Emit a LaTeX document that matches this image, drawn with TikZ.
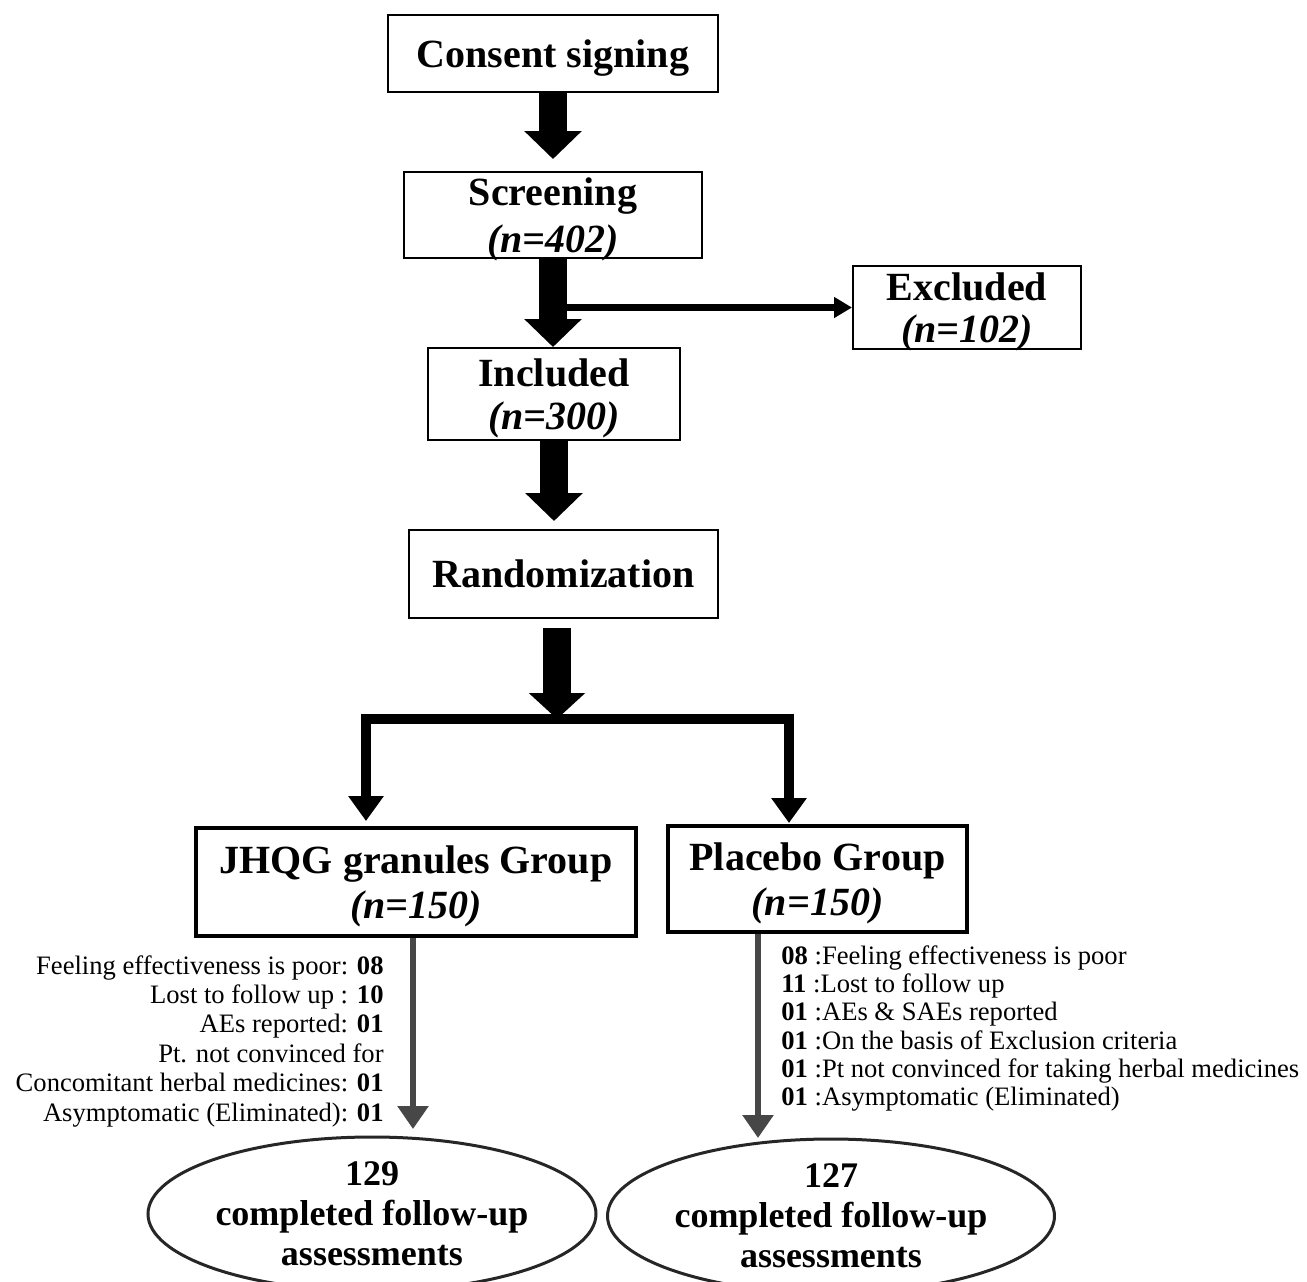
\documentclass[tikz,border=0pt]{standalone}
\usepackage{fontspec}
\setmainfont{Liberation Serif}
\usetikzlibrary{arrows.meta,shapes.geometric,calc}
\begin{document}
\begin{tikzpicture}[x=0.5pt,y=-0.5pt,
  box/.style={draw, line width=1pt, inner sep=0pt, align=center, text depth=0pt,
    font=\fontsize{20}{23}\selectfont\bfseries},
  gbox/.style={box, line width=1.8pt},
  fat/.style={line width=14pt, -{Triangle[width=28pt,length=14pt]}},
  barline/.style={line width=5pt, -{Triangle[width=17pt,length=12.5pt]}},
  thinarr/.style={line width=3.5pt, -{Triangle[width=10pt,length=9pt]}},
  grayarr/.style={draw=black!72, line width=2.8pt, -{Triangle[width=15pt,length=11.5pt]}},
  side/.style={inner sep=0pt, font=\fontsize{13.3}{14.7}\selectfont},
  ell/.style={draw=black!85, ellipse, line width=1.5pt, inner sep=0pt, align=center,
    font=\fontsize{18}{20}\selectfont\bfseries}]
\useasboundingbox (0,0) rectangle (1307,1281);
\clip (0,0) rectangle (1307,1281);

% boxes
\node[box, minimum width=165pt, minimum height=38.5pt] (consent) at (553,53.5) {Consent signing};
\node[box, minimum width=149pt, minimum height=43pt, font=\fontsize{20}{23.5}\selectfont\bfseries] (screen) at (553,215) {Screening\\\textit{(n=402)}};
\node[box, minimum width=114pt, minimum height=41.5pt, font=\fontsize{20}{21}\selectfont\bfseries] (excl) at (967,307.5) {Excluded\\\textit{(n=102)}};
\node[box, minimum width=126pt, minimum height=46pt, font=\fontsize{20}{21.5}\selectfont\bfseries] (incl) at (554,394) {Included\\\textit{(n=300)}};
\node[box, minimum width=154.5pt, minimum height=44pt] (rand) at (563.5,574) {Randomization};
\node[gbox, minimum width=220pt, minimum height=54pt, font=\fontsize{20}{22.5}\selectfont\bfseries] (jh) at (416,882) {JHQG granules Group\\\textit{(n=150)}};
\node[gbox, minimum width=149.5pt, minimum height=53pt, font=\fontsize{20}{22.5}\selectfont\bfseries] (pl) at (817.5,879) {Placebo Group\\\textit{(n=150)}};

% ellipses
\node[ell, minimum width=224pt, minimum height=77pt] (le) at (372,1214) {129\\completed follow-up\\assessments};
\node[ell, minimum width=223.5pt, minimum height=77pt] (re) at (831,1216) {127\\completed follow-up\\assessments};

% side texts
\node[side, anchor=east, align=right] (ltxt) at (384,1041) {Feeling effectiveness is poor: \textbf{08}\\
Lost to follow up : \textbf{10}\\
AEs reported: \textbf{01}\\
Pt. not convinced for\\
Concomitant herbal medicines: \textbf{01}\\
Asymptomatic (Eliminated): \textbf{01}};
\node[side, anchor=west, align=left, font=\fontsize{13.3}{14.1}\selectfont] (rtxt) at (781,1028.5) {\textbf{08} :Feeling effectiveness is poor\\
\textbf{11} :Lost to follow up\\
\textbf{01} :AEs \& SAEs reported\\
\textbf{01} :On the basis of Exclusion criteria\\
\textbf{01} :Pt not convinced for taking herbal medicines\\
\textbf{01} :Asymptomatic (Eliminated)};

% connectors
\draw[fat, shorten >=6pt] (consent.south) -- (screen.north);
\draw[thinarr] (screen.south |- excl.west) -- (excl.west);
\draw[fat] (screen.south) -- (screen.south |- incl.north);
\draw[fat, shorten >=4pt] (incl.south) -- (incl.south |- rand.north);

\coordinate (split) at (557,719);
\coordinate (lt) at (366,821);
\coordinate (rt) at (789,823);
\draw[barline] (split) -| (lt);
\draw[barline] (split) -| (rt);
\draw[fat, shorten <=4.5pt, -{Triangle[width=27.5pt,length=13pt]}] (rand.south -| split) -- (split);

\coordinate (lg) at (413,1129);
\coordinate (rg) at (758,1138);
\draw[grayarr] (jh.south -| lg) -- (lg);
\draw[grayarr] (pl.south -| rg) -- (rg);
\end{tikzpicture}
\end{document}
